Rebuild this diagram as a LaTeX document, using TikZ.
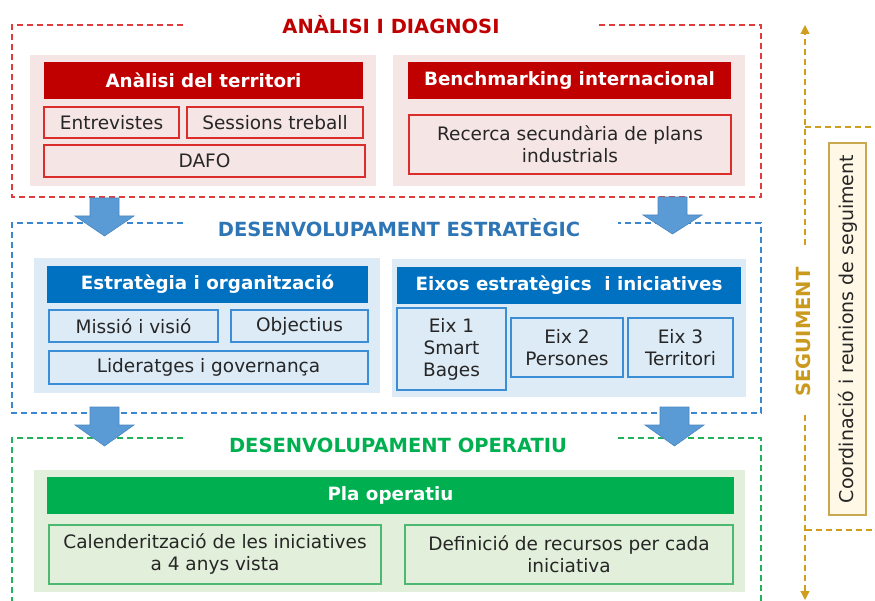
\documentclass[tikz,border=0pt]{standalone}
\usepackage{fontspec}
\setmainfont{DejaVu Sans}
\usetikzlibrary{arrows.meta}
\definecolor{txt}{HTML}{262626}
\definecolor{redLine}{HTML}{E03C3C}
\definecolor{redD}{HTML}{C00000}
\definecolor{redPanel}{HTML}{F6E5E5}
\definecolor{redSub}{HTML}{DC2D2D}
\definecolor{blueLine}{HTML}{3A86D0}
\definecolor{blueTitle}{HTML}{2E75B6}
\definecolor{blueD}{HTML}{0070C0}
\definecolor{bluePanel}{HTML}{DDEBF7}
\definecolor{blueSub}{HTML}{3B8ED6}
\definecolor{arrowFill}{HTML}{5B9BD5}
\definecolor{arrowEdge}{HTML}{4A86C0}
\definecolor{greenLine}{HTML}{22B35A}
\definecolor{greenD}{HTML}{00B050}
\definecolor{greenPanel}{HTML}{E2EFDA}
\definecolor{greenSub}{HTML}{4CB872}
\definecolor{goldLine}{HTML}{CF9E1F}
\definecolor{goldText}{HTML}{C99A1E}
\definecolor{goldBox}{HTML}{C9A94F}
\definecolor{goldFill}{HTML}{FFF8E6}
\newcommand{\bodyfont}{\fontsize{18.5}{22}\selectfont}
\newcommand{\hdrfont}{\bfseries\fontsize{18.3}{22}\selectfont}
\newcommand{\sectfont}{\bfseries\fontsize{19.5}{22}\selectfont}
\newcommand{\rotfont}{\fontsize{19}{22}\selectfont}
\tikzset{
  panel/.style={fill=#1, draw=none, inner sep=0pt},
  hdr/.style={fill=#1, draw=none, text=white, font=\hdrfont, inner sep=0pt},
  sub/.style={draw=#1, line width=1.3pt, text=txt, font=\bodyfont, align=center, inner sep=0pt},
  sect/.style={draw=#1, line width=1.2pt, dash pattern=on 6pt off 4pt},
  secttitle/.style={text=#1, font=\sectfont, inner sep=0pt},
  blockarrow/.style={fill=arrowFill, draw=arrowEdge, line width=0.6pt},
  goldl/.style={draw=goldLine, line width=1.2pt, dash pattern=on 6pt off 4pt},
}
\begin{document}
\begin{tikzpicture}[x=1pt,y=-1pt]
\useasboundingbox (0,0) rectangle (875,601);

% ---------- ANALISI I DIAGNOSI ----------
\draw[sect=redLine] (183,25) -- (12,25) -- (12,197) -- (761,197) -- (761,25) -- (598,25);
\node[secttitle=redD] (tA) at (391,25) {ANÀLISI I DIAGNOSI};
\node[panel=redPanel, minimum width=346pt, minimum height=131pt] (pRL) at (203,120.5) {};
\node[panel=redPanel, minimum width=352pt, minimum height=131pt] (pRR) at (569,120.5) {};
\node[hdr=redD, minimum width=319pt, minimum height=37pt] (anT) at (203.5,80.5) {Anàlisi del territori};
\node[sub=redSub, minimum width=135pt, minimum height=31pt] (entr) at (111.5,122.5) {Entrevistes};
\node[sub=redSub, minimum width=176pt, minimum height=31pt] (sess) at (275,122.5) {Sessions treball};
\node[sub=redSub, minimum width=321pt, minimum height=32pt] (dafo) at (204.5,161) {DAFO};
\node[hdr=redD, minimum width=323pt, minimum height=37pt] (bench) at (569.5,80.5) {Benchmarking internacional};
\node[sub=redSub, minimum width=322pt, minimum height=59pt] (rec) at (570,144.5) {Recerca secundària de plans\\industrials};

% ---------- DESENVOLUPAMENT ESTRATEGIC ----------
\draw[sect=blueLine] (183,223) -- (12,223) -- (12,413) -- (761,413) -- (761,223) -- (618,223);
\node[secttitle=blueTitle] (tB) at (399,228) {DESENVOLUPAMENT ESTRATÈGIC};
\node[panel=bluePanel, minimum width=346pt, minimum height=135pt] (pBL) at (207,325.5) {};
\node[panel=bluePanel, minimum width=354pt, minimum height=138pt] (pBR) at (569,328) {};
\node[hdr=blueD, minimum width=321pt, minimum height=37pt] (estr) at (207.5,284.5) {Estratègia i organització};
\node[sub=blueSub, minimum width=169pt, minimum height=32pt] (mis) at (133.5,326) {Missió i visió};
\node[sub=blueSub, minimum width=137pt, minimum height=32pt] (obj) at (299.5,326) {Objectius};
\node[sub=blueSub, minimum width=319pt, minimum height=33pt] (lid) at (208.5,367.5) {Lideratges i governança};
\node[hdr=blueD, minimum width=344pt, minimum height=37pt] (eixos) at (569,285.5) {Eixos estratègics\ \ i iniciatives};
\node[sub=blueSub, minimum width=109pt, minimum height=82pt] (e1) at (451.5,349) {Eix 1\\Smart\\Bages};
\node[sub=blueSub, minimum width=112pt, minimum height=59pt] (e2) at (567,347.5) {Eix 2\\Persones};
\node[sub=blueSub, minimum width=105pt, minimum height=59pt] (e3) at (680.5,347.5) {Eix 3\\Territori};

% ---------- DESENVOLUPAMENT OPERATIU ----------
\draw[sect=greenLine] (183,438) -- (12,438) -- (12,605);
\draw[sect=greenLine] (618,438) -- (761,438) -- (761,605);
\node[secttitle=greenD] (tC) at (398,445.5) {DESENVOLUPAMENT OPERATIU};
\node[panel=greenPanel, minimum width=711pt, minimum height=122pt] (pG) at (389.5,531) {};
\node[hdr=greenD, minimum width=687pt, minimum height=37pt] (pla) at (390.5,495.5) {Pla operatiu};
\node[sub=greenSub, minimum width=332pt, minimum height=59pt] (cal) at (215,554.5) {Calenderització de les iniciatives\\a 4 anys vista};
\node[sub=greenSub, minimum width=328pt, minimum height=59pt] (def) at (569,554.5) {Definició de recursos per cada\\iniciativa};

% ---------- block arrows ----------
\draw[blockarrow] (90,198) -- (119,198) -- (119,216) -- (134,216) -- (104.5,236) -- (75,216) -- (90,216) -- cycle;
\draw[blockarrow] (658,197) -- (687,197) -- (687,215) -- (702,215) -- (672.5,234) -- (643,215) -- (658,215) -- cycle;
\draw[blockarrow] (90,407) -- (119,407) -- (119,425) -- (134,425) -- (104.5,446) -- (75,425) -- (90,425) -- cycle;
\draw[blockarrow] (660,407) -- (689,407) -- (689,425) -- (704,425) -- (674.5,446) -- (645,425) -- (660,425) -- cycle;

% ---------- SEGUIMENT ----------
\coordinate (sTop) at (805,25);
\coordinate (sUp) at (805,245);
\coordinate (sLow) at (805,415);
\coordinate (sBot) at (805,600);
\draw[goldl, -{Triangle[width=9pt,length=9pt,fill=goldLine]}] (sUp) -- (sTop);
\draw[goldl, -{Triangle[width=9pt,length=9pt,fill=goldLine]}] (sLow) -- (sBot);
\node[text=goldText, font=\sectfont, rotate=90, inner sep=0pt] (seg) at (803.5,332) {SEGUIMENT};
\coordinate (hA) at (875,127);
\coordinate (hB) at (875,530);
\draw[goldl] (805,127) -- (hA);
\draw[goldl] (806,530) -- (hB);
\node[draw=goldBox, fill=goldFill, line width=1.3pt, rotate=90, minimum width=372pt, minimum height=37pt, inner sep=0pt, text=txt, font=\rotfont] (coord) at (847.5,329) {Coordinació i reunions de seguiment};
\end{tikzpicture}
\end{document}
